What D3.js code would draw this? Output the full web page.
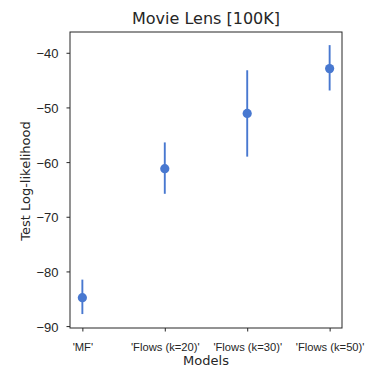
<!DOCTYPE html>
<html>
<head>
<meta charset="utf-8">
<script src="https://cdn.jsdelivr.net/npm/d3@7"></script>
<style>
  body { margin: 0; background: #fff; }
  svg { display: block; font-family: "DejaVu Sans", sans-serif; }
</style>
</head>
<body>
<div id="chart"></div>
<script>
// Movie Lens [100K] - point estimates with error bars

const models = ["'MF'", "'Flows (k=20)'", "'Flows (k=30)'", "'Flows (k=50)'"];
const means = [-84.8, -61.2, -51.1, -42.9];
const lower = [-87.8, -65.8, -59.0, -46.9];
const upper = [-81.5, -56.4, -43.2, -38.6];
const yTicks = [-90, -80, -70, -60, -50, -40];

const width = 371, height = 367;
const margin = { top: 32, right: 29, bottom: 39, left: 70 };
const innerW = width - margin.left - margin.right;
const innerH = height - margin.top - margin.bottom;
const color = "#4878d0";
const ink = "#262626";

const svg = d3.select("#chart").append("svg")
    .attr("width", width)
    .attr("height", height);

const g = svg.append("g")
    .attr("transform", `translate(${margin.left},${margin.top})`);

const x = d3.scaleLinear()
    .domain([-0.15, models.length - 1 + 0.15])
    .range([0, innerW]);

const y = d3.scaleLinear()
    .domain([-90.35, -36.2])
    .range([innerH, 0]);

// axes
const yAxis = g.append("g")
    .call(d3.axisLeft(y).tickValues(yTicks).tickSize(3.5).tickPadding(8)
        .tickFormat(d => d3.format("d")(d).replace("-", "\u2212")));
yAxis.select(".domain").remove();
yAxis.selectAll("text").style("font-size", "13px").attr("fill", ink).attr("dy", "0.4em");
yAxis.selectAll("line").attr("stroke", ink);

const xAxis = g.append("g")
    .attr("transform", `translate(0,${innerH})`)
    .call(d3.axisBottom(x).tickValues(d3.range(models.length)).tickSize(3.5)
        .tickFormat(i => models[i]));
xAxis.select(".domain").remove();
xAxis.selectAll("text")
    .style("font-size", "11.2px")
    .attr("fill", ink)
    .attr("y", 22.5)
    .attr("dy", 0);
xAxis.selectAll("line").attr("stroke", ink);

// frame
g.append("rect")
    .attr("width", innerW)
    .attr("height", innerH)
    .attr("fill", "none")
    .attr("stroke", ink)
    .attr("stroke-width", 1);

// error bars
g.selectAll(".err")
    .data(models)
    .enter().append("line")
    .attr("class", "err")
    .attr("x1", (d, i) => x(i))
    .attr("x2", (d, i) => x(i))
    .attr("y1", (d, i) => y(lower[i]))
    .attr("y2", (d, i) => y(upper[i]))
    .attr("stroke", color)
    .attr("stroke-width", 1.9);

g.selectAll(".pt")
    .data(models)
    .enter().append("circle")
    .attr("class", "pt")
    .attr("cx", (d, i) => x(i))
    .attr("cy", (d, i) => y(means[i]))
    .attr("r", 4.6)
    .attr("fill", color);

// labels
svg.append("text")
    .attr("x", margin.left + innerW / 2)
    .attr("y", 24)
    .attr("text-anchor", "middle")
    .style("font-size", "16px")
    .attr("fill", ink)
    .text("Movie Lens [100K]");

svg.append("text")
    .attr("x", margin.left + innerW / 2)
    .attr("y", 365)
    .attr("text-anchor", "middle")
    .style("font-size", "13px")
    .attr("fill", ink)
    .text("Models");

svg.append("text")
    .attr("transform", `translate(30,${margin.top + innerH / 2 + 1}) rotate(-90)`)
    .attr("text-anchor", "middle")
    .style("font-size", "13px")
    .attr("fill", ink)
    .text("Test Log-likelihood");
</script>
</body>
</html>
